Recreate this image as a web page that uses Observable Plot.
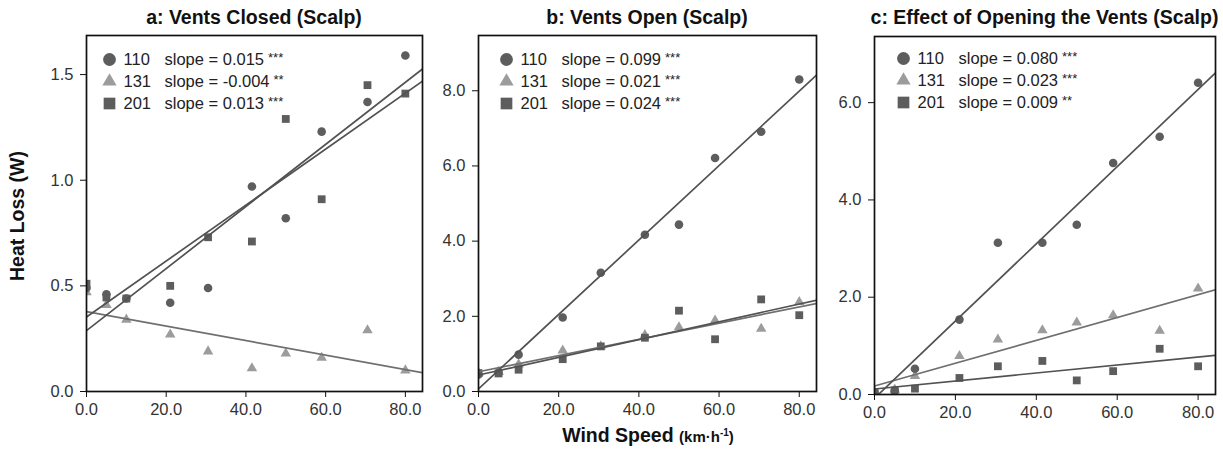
<!DOCTYPE html>
<html><head><meta charset="utf-8">
<script src="https://cdn.jsdelivr.net/npm/d3@7"></script>
<script src="https://cdn.jsdelivr.net/npm/@observablehq/plot@0.6"></script>
<style>
body{margin:0;background:#fff;font-family:"Liberation Sans",Arial,Helvetica,sans-serif;}
#wrap{position:relative;width:1223px;height:450px;overflow:hidden;background:#fff;}
.panel{position:absolute;top:0;}
.title{position:absolute;top:5px;height:24px;line-height:24px;font-weight:bold;font-size:19.5px;text-align:center;white-space:nowrap;color:#111;}
.ylab{position:absolute;left:17px;top:216px;transform:translate(-50%,-50%) rotate(-90deg);font-weight:bold;font-size:19.5px;white-space:nowrap;color:#111;}
.xlab{position:absolute;left:648px;top:435px;transform:translate(-50%,-50%);font-weight:bold;font-size:19.5px;white-space:nowrap;color:#111;}
.xlab .unit{font-size:15px;}
.xlab sup{font-size:10px;}
</style>
</head><body>
<div id="wrap"></div>
<script>
// ---------- data ----------
const windSpeed = [0, 5, 10, 21, 30.5, 41.5, 50, 59, 70.5, 80];
const groups = ["110", "131", "201"];

const closed110 = [0.49, 0.46, 0.44, 0.42, 0.49, 0.97, 0.82, 1.23, 1.37, 1.59];
const closed131 = [0.47, 0.41, 0.34, 0.27, 0.19, 0.11, 0.18, 0.16, 0.29, 0.10];
const closed201 = [0.51, 0.445, 0.44, 0.50, 0.73, 0.71, 1.29, 0.91, 1.45, 1.41];

const open110 = [0.45, 0.50, 0.98, 1.97, 3.16, 4.17, 4.44, 6.21, 6.91, 8.30];
const open131 = [0.50, 0.52, 0.72, 1.09, 1.20, 1.50, 1.71, 1.89, 1.67, 2.38];
const open201 = [0.49, 0.48, 0.58, 0.86, 1.20, 1.43, 2.15, 1.39, 2.45, 2.03];

const effect110 = [0.05, 0.08, 0.53, 1.54, 3.12, 3.12, 3.49, 4.76, 5.30, 6.41];
const effect131 = [0.05, 0.10, 0.38, 0.79, 1.13, 1.32, 1.48, 1.63, 1.31, 2.18];
const effect201 = [0.05, 0.08, 0.12, 0.34, 0.58, 0.69, 0.29, 0.48, 0.94, 0.58];

const titles = ["a: Vents Closed (Scalp)", "b: Vents Open (Scalp)", "c: Effect of Opening the Vents (Scalp)"];
const slopesClosed = ["slope = 0.015", "slope = -0.004", "slope = 0.013"];
const starsClosed = ["***", "**", "***"];
const slopesOpen = ["slope = 0.099", "slope = 0.021", "slope = 0.024"];
const starsOpen = ["***", "***", "***"];
const slopesEffect = ["slope = 0.080", "slope = 0.023", "slope = 0.009"];
const starsEffect = ["***", "***", "**"];

const xTicks = [0, 20, 40, 60, 80];
const yTicksClosed = [0, 0.5, 1.0, 1.5];
const yTicksOpen = [0, 2, 4, 6, 8];
const yTicksEffect = [0, 2, 4, 6];

// ---------- styles ----------
const FONT = '"Liberation Sans", Arial, sans-serif';
const LEG_FS = 16.5;
const symbolOf = {"110": "circle", "131": "triangle", "201": "square"};
const fillOf = {"110": "#5d5d5d", "131": "#9c9c9c", "201": "#5d5d5d"};
const lineOf = {"110": "#525252", "131": "#6f6f6f", "201": "#525252"};
const dotR = {"110": 4.3, "131": 3.9, "201": 4.4};
const legR = {"110": 6.4, "131": 5.3, "201": 6.6};

const panels = [
  {series: [closed110, closed131, closed201], slopes: slopesClosed, stars: starsClosed, yTicks: yTicksClosed, yMax: 1.685,
   left: 0, width: 425, ml: 86, mr: 3, mt: 35, mb: 59, lg: {mx: 23, nx: 37, sx: 78, y0: 24, step: 22}},
  {series: [open110, open131, open201], slopes: slopesOpen, stars: starsOpen, yTicks: yTicksOpen, yMax: 9.47,
   left: 430, width: 390, ml: 48, mr: 4, mt: 35, mb: 59, lg: {mx: 28, nx: 42, sx: 83, y0: 24, step: 22}},
  {series: [effect110, effect131, effect201], slopes: slopesEffect, stars: starsEffect, yTicks: yTicksEffect, yMax: 7.36,
   left: 826, width: 397, ml: 48, mr: 8, mt: 36, mb: 56, lg: {mx: 29, nx: 43, sx: 84, y0: 22, step: 22}}
];
const xMax = 84.3;

const ctx = document.createElement("canvas").getContext("2d");
ctx.font = `${LEG_FS}px "Liberation Sans", Arial, sans-serif`;
const textWidth = s => ctx.measureText(s).width;

function fit(xs, ys) {
  const mx = d3.mean(xs), my = d3.mean(ys);
  const b = d3.sum(xs, (x, i) => (x - mx) * (ys[i] - my)) / d3.sum(xs, x => (x - mx) ** 2);
  return [my - b * mx, b];
}

const wrap = document.getElementById("wrap");
const drawOrder = [1, 0, 2];

panels.forEach((p, pi) => {
  const marks = [];
  for (const gi of drawOrder) {
    const g = groups[gi];
    const pts = windSpeed.map((w, i) => ({x: w, y: p.series[gi][i]}));
    marks.push(Plot.dot(pts, {x: "x", y: "y", symbol: () => symbolOf[g], r: dotR[g], fill: fillOf[g], stroke: "none", clip: true}));
  }
  for (const gi of drawOrder) {
    const g = groups[gi];
    const [a, b] = fit(windSpeed, p.series[gi]);
    const ln = [0, xMax].map(x => ({x, y: a + b * x}));
    marks.push(Plot.line(ln, {x: "x", y: "y", stroke: lineOf[g], strokeWidth: 1.7, clip: true}));
  }
  // legend
  groups.forEach((g, gi) => {
    const dy = p.lg.y0 + gi * p.lg.step;
    marks.push(Plot.dot([g], {frameAnchor: "top-left", dx: p.lg.mx, dy, symbol: () => symbolOf[g], r: legR[g], fill: fillOf[g], stroke: "none"}));
    marks.push(Plot.text([g], {frameAnchor: "top-left", dx: p.lg.nx, dy, text: d => d, textAnchor: "start", lineAnchor: "middle", fontSize: LEG_FS, fill: "#222"}));
    marks.push(Plot.text([p.slopes[gi]], {frameAnchor: "top-left", dx: p.lg.sx, dy, text: d => d, textAnchor: "start", lineAnchor: "middle", fontSize: LEG_FS, fill: "#222"}));
    const sdx = p.lg.sx + textWidth(p.slopes[gi]) + 4;
    marks.push(Plot.text([p.stars[gi]], {frameAnchor: "top-left", dx: sdx, dy: dy - 2, text: d => d, textAnchor: "start", lineAnchor: "middle", fontSize: 13, fill: "#222"}));
  });
  marks.push(Plot.axisX({ticks: xTicks, tickFormat: d3.format(".1f"), tickSize: 6, tickPadding: 6, label: null, fontSize: 16.5, stroke: "#111", fill: "#333"}));
  marks.push(Plot.axisY({ticks: p.yTicks, tickFormat: d3.format(".1f"), tickSize: 6, tickPadding: 7, label: null, fontSize: 16.5, stroke: "#111", fill: "#333"}));
  marks.push(Plot.frame({stroke: "#111", strokeWidth: 1.7}));

  const chart = Plot.plot({
    width: p.width, height: 450,
    marginLeft: p.ml, marginRight: p.mr, marginTop: p.mt, marginBottom: p.mb,
    x: {domain: [0, xMax]},
    y: {domain: [0, p.yMax]},
    style: {fontFamily: FONT, fontSize: "16px", background: "transparent"},
    marks
  });
  chart.classList.add("panel");
  chart.style.left = p.left + "px";
  wrap.appendChild(chart);

  const t = document.createElement("div");
  t.className = "title";
  t.textContent = titles[pi];
  const fl = p.left + p.ml, fw = p.width - p.ml - p.mr;
  t.style.left = (fl - 40) + "px";
  t.style.width = (fw + 80) + "px";
  wrap.appendChild(t);
});

const yl = document.createElement("div");
yl.className = "ylab";
yl.textContent = "Heat Loss (W)";
wrap.appendChild(yl);

const xl = document.createElement("div");
xl.className = "xlab";
xl.innerHTML = 'Wind Speed <span class="unit">(km·h<sup>-1</sup>)</span>';
wrap.appendChild(xl);
</script>
</body></html>
